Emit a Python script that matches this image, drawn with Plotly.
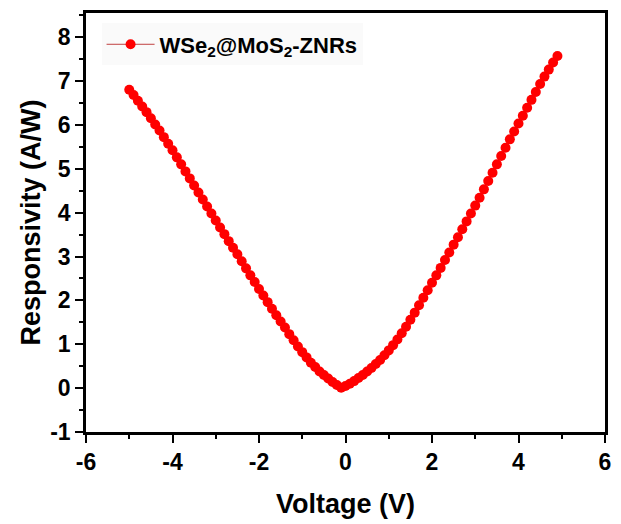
import plotly.graph_objects as go

voltage = [-5.0, -4.9, -4.8, -4.7, -4.6, -4.5, -4.4, -4.3, -4.2, -4.1,
           -4.0, -3.9, -3.8, -3.7, -3.6, -3.5, -3.4, -3.3, -3.2, -3.1,
           -3.0, -2.9, -2.8, -2.7, -2.6, -2.5, -2.4, -2.3, -2.2, -2.1,
           -2.0, -1.9, -1.8, -1.7, -1.6, -1.5, -1.4, -1.3, -1.2, -1.1,
           -1.0, -0.9, -0.8, -0.7, -0.6, -0.5, -0.4, -0.3, -0.2, -0.1,
           0.0, 0.1, 0.2, 0.3, 0.4, 0.5, 0.6, 0.7, 0.8, 0.9,
           1.0, 1.1, 1.2, 1.3, 1.4, 1.5, 1.6, 1.7, 1.8, 1.9,
           2.0, 2.1, 2.2, 2.3, 2.4, 2.5, 2.6, 2.7, 2.8, 2.9,
           3.0, 3.1, 3.2, 3.3, 3.4, 3.5, 3.6, 3.7, 3.8, 3.9,
           4.0, 4.1, 4.2, 4.3, 4.4, 4.5, 4.6, 4.7, 4.8, 4.9]

responsivity = [6.80, 6.68, 6.55, 6.42, 6.29, 6.15, 6.01, 5.87, 5.72, 5.57,
                5.42, 5.26, 5.10, 4.94, 4.78, 4.62, 4.46, 4.30, 4.14, 3.98,
                3.82, 3.66, 3.51, 3.35, 3.20, 3.05, 2.89, 2.73, 2.57, 2.42,
                2.26, 2.11, 1.96, 1.81, 1.66, 1.52, 1.38, 1.23, 1.09, 0.95,
                0.82, 0.70, 0.58, 0.48, 0.38, 0.30, 0.22, 0.14, 0.07, 0.01,
                0.05, 0.10, 0.16, 0.23, 0.30, 0.38, 0.46, 0.55, 0.64, 0.75,
                0.86, 0.98, 1.11, 1.25, 1.40, 1.56, 1.72, 1.89, 2.06, 2.23,
                2.40, 2.57, 2.74, 2.92, 3.09, 3.27, 3.44, 3.62, 3.80, 3.98,
                4.16, 4.34, 4.53, 4.72, 4.91, 5.10, 5.29, 5.48, 5.67, 5.85,
                6.03, 6.21, 6.39, 6.57, 6.75, 6.93, 7.10, 7.26, 7.42, 7.57]

x_tick_values = [-6, -4, -2, 0, 2, 4, 6]
x_tick_labels = ["-6", "-4", "-2", "0", "2", "4", "6"]
y_tick_values = [-1, 0, 1, 2, 3, 4, 5, 6, 7, 8]
y_tick_labels = ["-1", "0", "1", "2", "3", "4", "5", "6", "7", "8"]

series_name = "WSe<sub>2</sub>@MoS<sub>2</sub>-ZNRs"
x_title = "Voltage (V)"
y_title = "Responsivity (A/W)"

FONT = "Liberation Sans, Arial, sans-serif"

fig = go.Figure()
fig.add_trace(go.Scatter(
    x=voltage, y=responsivity, mode="lines+markers", name=series_name,
    line=dict(color="#c04040", width=1),
    marker=dict(color="#ff0000", size=10, line=dict(width=0)),
))

axis_common = dict(
    showline=True, linecolor="black", linewidth=2.5, mirror=True,
    ticks="outside", ticklen=8, tickwidth=2, tickcolor="black",
    showgrid=False, zeroline=False,
    tickfont=dict(family=FONT, size=23, color="black", weight="bold"),
)

fig.update_layout(
    width=621, height=524,
    margin=dict(l=86, r=11, t=10, b=91),
    paper_bgcolor="white", plot_bgcolor="white",
    font=dict(family=FONT, color="black"),
    showlegend=True,
    legend=dict(
        x=0.03, y=0.975, xanchor="left", yanchor="top",
        bgcolor="#fafafa", borderwidth=0,
        font=dict(family=FONT, size=22, color="black", weight="bold"),
        itemwidth=48,
    ),
    xaxis=dict(
        range=[-6, 6], tickmode="array", tickvals=x_tick_values, ticktext=x_tick_labels,
        minor=dict(dtick=1, tick0=0, ticks="outside", ticklen=4, tickwidth=2, tickcolor="black"),
        title=dict(text=x_title, standoff=20,
                   font=dict(family=FONT, size=27, color="black", weight="bold")),
        **axis_common,
    ),
    yaxis=dict(
        range=[-1, 8.55], tickmode="array", tickvals=y_tick_values, ticktext=y_tick_labels,
        minor=dict(dtick=0.5, tick0=0, ticks="outside", ticklen=4, tickwidth=2, tickcolor="black"),
        title=dict(text=y_title, standoff=2,
                   font=dict(family=FONT, size=27, color="black", weight="bold")),
        **axis_common,
    ),
)

fig.write_html("out.html")
